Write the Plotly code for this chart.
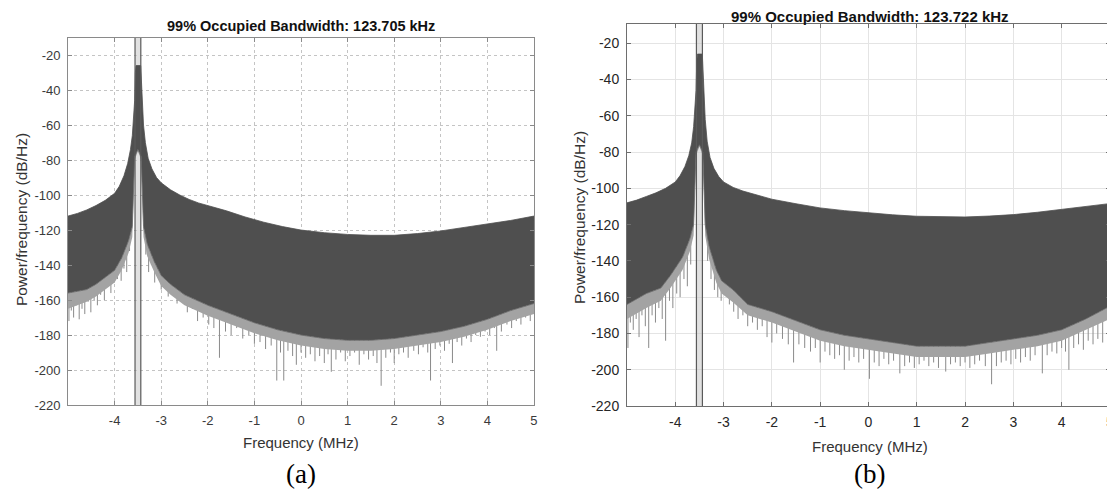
import plotly.graph_objs as go

# ---- data (frequency in MHz, level in dB/Hz) ----
titles = ["99% Occupied Bandwidth: 123.705 kHz", "99% Occupied Bandwidth: 123.722 kHz"]
panel_labels = ["(a)", "(b)"]
x_ticks = [-4, -3, -2, -1, 0, 1, 2, 3, 4, 5]
y_ticks = [-220, -200, -180, -160, -140, -120, -100, -80, -60, -40, -20]

# occupied-band edges (MHz)
band_a = [-3.562, -3.438]
band_b = [-3.562, -3.438]

# upper envelope of the dense PSD trace
upper_f_a = [-5.0, -4.8, -4.6, -4.4, -4.2, -4.0, -3.9, -3.8, -3.72, -3.66, -3.62, -3.59, -3.57,
             -3.555, -3.54, -3.44, -3.425, -3.41, -3.38, -3.34, -3.28, -3.2, -3.1, -3.0, -2.8,
             -2.6, -2.4, -2.2, -2.0, -1.6, -1.2, -0.8, -0.4, 0.0, 0.5, 1.0, 1.5, 2.0, 2.5, 3.0,
             3.5, 4.0, 4.5, 5.0]
upper_v_a = [-112, -110.5, -108.5, -106, -103, -99, -95, -89, -82, -74, -66, -56, -46,
             -30, -26, -26, -36, -45, -60, -70, -79, -85, -90, -93, -97,
             -100, -102.5, -104.5, -106, -109, -112.5, -115.5, -118, -120, -121.5, -122.5, -123, -123, -122, -120.5,
             -118.5, -116.5, -114.5, -112]

upper_f_b = [-5.0, -4.8, -4.6, -4.4, -4.2, -4.0, -3.9, -3.8, -3.72, -3.66, -3.62, -3.59, -3.57,
             -3.555, -3.54, -3.44, -3.425, -3.41, -3.38, -3.34, -3.28, -3.2, -3.1, -3.0, -2.8,
             -2.6, -2.4, -2.2, -2.0, -1.5, -1.0, -0.5, 0.0, 0.5, 1.0, 1.5, 2.0, 2.5, 3.0,
             3.5, 4.0, 4.5, 5.0]
upper_v_b = [-108, -106.5, -104.5, -102.5, -100, -96.5, -93, -88, -82, -75, -66, -56, -46,
             -30, -26, -26, -36, -45, -62, -74, -83, -89, -93.5, -96.5, -99.5,
             -101.5, -103, -104.5, -106, -108.5, -110.8, -112.3, -113.6, -114.6, -115.4, -115.8, -115.8, -115.3, -114.5,
             -113.2, -111.7, -110, -108.4]

# lower edge of the solid dark region, and of the grey fringe of dense dips below it
lower_f_a = [-5.0, -4.8, -4.6, -4.4, -4.2, -4.0, -3.85, -3.7, -3.62, -3.57, -3.5, -3.43, -3.38,
             -3.3, -3.15, -3.0, -2.8, -2.5, -2.0, -1.5, -1.0, -0.5, 0.0, 0.5, 1.0, 1.5, 2.0,
             2.5, 3.0, 3.5, 4.0, 4.5, 5.0]
lower_v_a = [-156, -155, -154, -151, -147, -143, -136, -126, -118, -78, -74, -78, -118,
             -128, -138, -146, -151, -157, -163, -168, -173, -177, -180, -182, -183, -183, -182,
             -180, -178, -175, -171, -166, -162]
fringe_v_a = [-165, -163, -161, -158, -154, -150, -143, -133, -124, -80, -75, -80, -124,
              -135, -144, -152, -157, -163, -169, -174, -179, -183, -186, -188, -189, -189, -188,
              -186, -184, -181, -177, -172, -168]

lower_f_b = [-5.0, -4.8, -4.6, -4.3, -4.1, -3.85, -3.7, -3.62, -3.57, -3.5, -3.43, -3.38,
             -3.3, -3.15, -3.04, -2.8, -2.5, -2.0, -1.5, -1.0, -0.5, 0.0, 0.5, 1.0, 1.5, 2.0,
             2.5, 3.0, 3.5, 4.0, 4.5, 5.0]
lower_v_b = [-164, -161, -158, -155, -148, -138, -128, -120, -80, -76, -80, -120,
             -132, -145, -151, -156, -164, -168, -173, -178, -181, -183, -185, -187, -187, -187,
             -185, -183, -181, -178, -172, -165]
fringe_v_b = [-172, -169, -166, -162, -155, -145, -135, -126, -82, -77, -82, -126,
              -139, -152, -158, -163, -170, -174, -179, -184, -187, -189, -191, -193, -193, -193,
              -191, -189, -187, -184, -178, -172]

# individual downward spikes below the dark region (frequency, bottom level)
spike_f_a = [-4.98, -4.93, -4.88, -4.82, -4.76, -4.70, -4.64, -4.57, -4.51, -4.44, -4.37, -4.30,
             -4.22, -4.15, -4.08, -4.01, -3.94, -3.86, -3.80, -3.74, -3.68, -3.33, -3.27, -3.21,
             -3.14, -3.08, -3.0, -2.92, -2.85, -2.76, -2.66, -2.55, -2.44, -2.33, -2.22, -2.1,
             -1.98, -1.87, -1.75, -1.62, -1.5, -1.38, -1.25, -1.12, -1.0, -0.88, -0.76, -0.64,
             -0.52, -0.44, -0.37, -0.28, -0.18, -0.1, 0.0, 0.1, 0.2, 0.3, 0.4, 0.5, 0.58, 0.65,
             0.75, 0.85, 0.95, 1.05, 1.15, 1.25, 1.35, 1.45, 1.55, 1.63, 1.72, 1.82, 1.92, 2.0,
             2.1, 2.2, 2.3, 2.42, 2.52, 2.62, 2.72, 2.78, 2.88, 2.98, 3.08, 3.18, 3.25, 3.35,
             3.45, 3.55, 3.65, 3.75, 3.85, 3.95, 4.05, 4.15, 4.2, 4.3, 4.42, 4.52, 4.62, 4.72,
             4.82, 4.92, 4.98]
spike_v_a = [-172, -166, -170, -163, -171, -165, -168, -161, -167, -160, -163, -157,
             -160, -152, -156, -150, -148, -149, -142, -144, -132, -134, -144, -140,
             -150, -146, -154, -152, -158, -156, -162, -160, -167, -165, -172, -170,
             -174, -176, -193, -178, -180, -176, -182, -180, -185, -184, -188, -186,
             -206, -190, -206, -189, -192, -197, -190, -193, -191, -195, -192, -196, -191, -201,
             -194, -190, -195, -192, -190, -197, -191, -194, -192, -196, -209, -193, -190, -196,
             -191, -190, -193, -189, -191, -187, -190, -206, -188, -186, -189, -185, -196, -184,
             -186, -182, -184, -180, -181, -178, -180, -176, -189, -178, -174, -176, -172, -174,
             -170, -172, -168]

spike_f_b = [-4.98, -4.93, -4.87, -4.81, -4.75, -4.69, -4.62, -4.55, -4.48, -4.41, -4.34, -4.27,
             -4.2, -4.12, -4.05, -3.97, -3.9, -3.82, -3.75, -3.68, -3.33, -3.26, -3.19, -3.12,
             -3.05, -2.97, -2.88, -2.79, -2.7, -2.6, -2.5, -2.4, -2.3, -2.2, -2.1, -2.0, -1.9,
             -1.78, -1.66, -1.55, -1.44, -1.32, -1.2, -1.1, -1.0, -0.9, -0.8, -0.7, -0.6, -0.5,
             -0.4, -0.3, -0.2, -0.1, 0.02, 0.12, 0.22, 0.32, 0.42, 0.52, 0.65, 0.75, 0.85, 0.95,
             1.05, 1.15, 1.25, 1.35, 1.45, 1.6, 1.7, 1.8, 1.9, 2.0, 2.1, 2.2, 2.3, 2.42, 2.55,
             2.65, 2.75, 2.85, 2.95, 3.05, 3.15, 3.25, 3.35, 3.45, 3.6, 3.7, 3.8, 3.9, 4.0, 4.08,
             4.15, 4.25, 4.35, 4.45, 4.55, 4.65, 4.75, 4.85, 4.95]
spike_v_b = [-188, -174, -178, -172, -182, -170, -176, -188, -170, -174, -166, -172,
             -184, -162, -166, -158, -160, -150, -154, -142, -140, -150, -156, -160,
             -162, -158, -164, -168, -172, -170, -176, -174, -178, -176, -182, -185, -180,
             -183, -186, -196, -186, -188, -190, -188, -196, -190, -192, -194, -192, -200,
             -195, -193, -196, -194, -205, -196, -198, -194, -197, -195, -202, -198, -196, -199,
             -197, -195, -198, -196, -199, -201, -197, -196, -198, -196, -199, -197, -195, -198, -208,
             -198, -196, -195, -197, -194, -196, -193, -195, -192, -202, -192, -190, -191, -188, -190,
             -200, -188, -186, -189, -184, -186, -183, -185, -180]

# the page body adds an 8px margin and the photo is slightly squeezed,
# so target pixel positions are converted with these factors
OFF = 8
SX, SY = 0.9965, 0.984
W, H = 1115, 493


def px_x(v):
    return (v / SX - OFF) / W


def px_y(v):
    return 1 - (v / SY - OFF) / H


panels = [
    dict(band=band_a, uf=upper_f_a, uv=upper_v_a, lf=lower_f_a, lv=lower_v_a, fv=fringe_v_a,
         sf=spike_f_a, sv=spike_v_a, ax="", yr=[-220, -10.3], grid="dot", gridc="#c4c4c4",
         tickc="#3a3a3a", linec="#8a8a8a", fs=13,
         xdom=[68, 534], ydom=[405, 38]),
    dict(band=band_b, uf=upper_f_b, uv=upper_v_b, lf=lower_f_b, lv=lower_v_b, fv=fringe_v_b,
         sf=spike_f_b, sv=spike_v_b, ax="2", yr=[-220, -9.5], grid="solid", gridc="#e4e4e4",
         tickc="#262626", linec="#6e6e6e", fs=14,
         xdom=[627, 1110], ydom=[406, 24]),
]

DARK = "#4f4f4f"
fig = go.Figure()

for p in panels:
    xa = "x" + p["ax"]
    ya = "y" + p["ax"]
    # spikes first so the fills cover their upper ends
    sx, sy = [], []
    for f, v in zip(p["sf"], p["sv"]):
        sx += [f, f, None]
        sy += [-125, v, None]
    fig.add_trace(go.Scatter(x=sx, y=sy, mode="lines", line=dict(color="#8a8a8a", width=1),
                             xaxis=xa, yaxis=ya, showlegend=False, hoverinfo="skip"))
    fig.add_trace(go.Scatter(x=p["lf"], y=p["fv"], mode="lines", line=dict(width=0),
                             xaxis=xa, yaxis=ya, showlegend=False, hoverinfo="skip"))
    fig.add_trace(go.Scatter(x=p["lf"], y=p["lv"], mode="lines", fill="tonexty",
                             fillcolor="#a3a3a3", line=dict(color="#6a6a6a", width=0.8),
                             xaxis=xa, yaxis=ya, showlegend=False))
    fig.add_trace(go.Scatter(x=p["uf"], y=p["uv"], mode="lines", fill="tonexty",
                             fillcolor=DARK, line=dict(color=DARK, width=0.8),
                             xaxis=xa, yaxis=ya, showlegend=False))
    # occupied-bandwidth patch and edge lines
    fig.add_shape(type="rect", xref=xa, yref=ya,
                  x0=p["band"][0], x1=p["band"][1], y0=p["yr"][0], y1=p["yr"][1],
                  fillcolor="rgba(200,200,200,0.55)", line=dict(width=0), layer="between")
    for e in p["band"]:
        fig.add_shape(type="line", xref=xa, yref=ya, x0=e, x1=e, y0=p["yr"][0], y1=p["yr"][1],
                      line=dict(color="#5a5a5a", width=1.2), layer="above")

axis_common = dict(showline=True, mirror="allticks", ticks="inside", ticklen=4,
                   zeroline=False, showgrid=True)
fn = "Liberation Sans, Arial, sans-serif"

for p in panels:
    xdom = [px_x(p["xdom"][0]), px_x(p["xdom"][1])]
    ydom = [px_y(p["ydom"][0]), px_y(p["ydom"][1])]
    fig.update_layout(**{
        "xaxis" + p["ax"]: dict(axis_common, domain=xdom, range=[-5, 5], tickvals=x_ticks,
                                ticktext=[str(t) for t in x_ticks], ticklabeloverflow="allow",
                                ticklabelstandoff=3,
                                anchor="y" + p["ax"], linecolor=p["linec"], tickcolor=p["linec"],
                                gridcolor=p["gridc"], griddash=p["grid"],
                                tickfont=dict(family=fn, size=p["fs"], color=p["tickc"])),
        "yaxis" + p["ax"]: dict(axis_common, domain=ydom, range=p["yr"], tickvals=y_ticks,
                                ticktext=[str(t) for t in y_ticks], ticklabelstandoff=4,
                                anchor="x" + p["ax"], linecolor=p["linec"], tickcolor=p["linec"],
                                gridcolor=p["gridc"], griddash=p["grid"],
                                tickfont=dict(family=fn, size=p["fs"], color=p["tickc"])),
    })

ann = []
cx = [301, 870]
title_y = [26, 16]
title_fs = [14.5, 15]
xlab_y = [442, 446]
plab_y = [474, 474]
ylab_x = [21, 579]
ylab_y = [220, 217]
common = dict(xref="paper", yref="paper", showarrow=False, xanchor="center", yanchor="middle")
for i in range(2):
    ann.append(dict(common, text="<b>" + titles[i] + "</b>", x=px_x(cx[i]), y=px_y(title_y[i]),
                    font=dict(family=fn, size=title_fs[i], color="#111111")))
    ann.append(dict(common, text="Frequency (MHz)", x=px_x(cx[i]), y=px_y(xlab_y[i]),
                    font=dict(family=fn, size=15, color="#333333")))
    ann.append(dict(common, text=panel_labels[i], x=px_x(cx[i]), y=px_y(plab_y[i]),
                    font=dict(family="Liberation Serif, Times New Roman, serif", size=27, color="#000000")))
    ann.append(dict(common, text="Power/frequency (dB/Hz)", x=px_x(ylab_x[i]), y=px_y(ylab_y[i]),
                    textangle=-90, font=dict(family=fn, size=15.5, color="#333333")))

fig.update_layout(width=W, height=H, margin=dict(l=0, r=0, t=0, b=0),
                  paper_bgcolor="white", plot_bgcolor="white", annotations=ann,
                  font=dict(family=fn))

fig.write_html("out.html")
